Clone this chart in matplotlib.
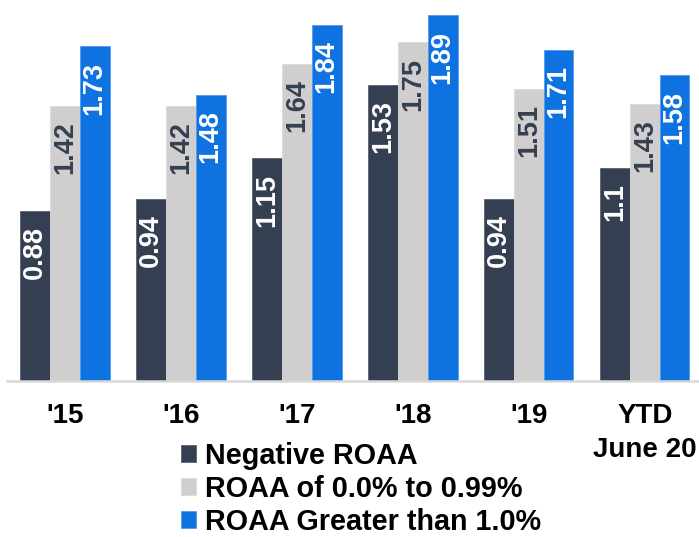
import matplotlib
matplotlib.use("Agg")
import matplotlib.pyplot as plt
from matplotlib import font_manager
import numpy as np

# datos del grafico
categorias = ["'15", "'16", "'17", "'18", "'19", "YTD\nJune 20"]
negativo = [0.88, 0.94, 1.15, 1.53, 0.94, 1.1]
roaa_bajo = [1.42, 1.42, 1.64, 1.75, 1.51, 1.43]
roaa_alto = [1.73, 1.48, 1.84, 1.89, 1.71, 1.58]
etiquetas_neg = ["0.88", "0.94", "1.15", "1.53", "0.94", "1.1"]
etiquetas_bajo = ["1.42", "1.42", "1.64", "1.75", "1.51", "1.43"]
etiquetas_alto = ["1.73", "1.48", "1.84", "1.89", "1.71", "1.58"]
series = ["Negative ROAA", "ROAA of 0.0% to 0.99%", "ROAA Greater than 1.0%"]

c_osc = "#343f51"
c_gris = "#d0cece"
c_azul = "#0e72e0"

disponibles = {f.name for f in font_manager.fontManager.ttflist}
fuente = "Liberation Sans" if "Liberation Sans" in disponibles else "DejaVu Sans"
fuente_num = "Liberation Sans Narrow" if "Liberation Sans Narrow" in disponibles else fuente
tam_num = 22 if fuente_num != fuente else 19.5
plt.rcParams["font.family"] = fuente

fig = plt.figure(figsize=(6.99, 5.37), dpi=100)
ax = fig.add_axes([7/699, 1 - 381/537, 692/699, 381/537])

x = np.arange(len(categorias))
w = 0.256
b1 = ax.bar(x - w, negativo, w, color=c_osc, edgecolor="#5a6373", linewidth=0.6, label=series[0])
b2 = ax.bar(x, roaa_bajo, w, color=c_gris, edgecolor="#dcdada", linewidth=0.6, label=series[1])
b3 = ax.bar(x + w, roaa_alto, w, color=c_azul, edgecolor="#4f9cf0", linewidth=0.6, label=series[2])

def poner_etiquetas(barras, textos, color):
    for r, t in zip(barras, textos):
        ax.annotate(t, (r.get_x() + r.get_width()/2, r.get_height()),
                    xytext=(0, -11), textcoords="offset points",
                    rotation=90, ha="center", va="top",
                    fontsize=tam_num, color=color, fontweight="bold", family=fuente_num)

poner_etiquetas(b1, etiquetas_neg, "white")
poner_etiquetas(b2, etiquetas_bajo, c_osc)
poner_etiquetas(b3, etiquetas_alto, "white")

ax.set_xlim(-0.5, 5.466)
ax.set_ylim(0, 381/193.5)
ax.set_yticks([])
ax.set_xticks(x)
ax.set_xticklabels(categorias, fontsize=20, fontweight="bold", linespacing=1.4)
ax.tick_params(axis="x", length=0, pad=16)
for s in ["top", "left", "right"]:
    ax.spines[s].set_visible(False)
ax.spines["bottom"].set_color("#d9d9d9")
ax.spines["bottom"].set_linewidth(1.8)

fig.legend(handles=[b1, b2, b3], labels=series, loc="upper left",
           bbox_to_anchor=(181/699, 1 - 442/537), frameon=False,
           prop={"weight": "bold", "size": 20.7},
           handlelength=0.52, handleheight=0.52, handletextpad=0.32,
           labelspacing=0.17, borderpad=0, borderaxespad=0)

fig.savefig("out.png", dpi=100)
